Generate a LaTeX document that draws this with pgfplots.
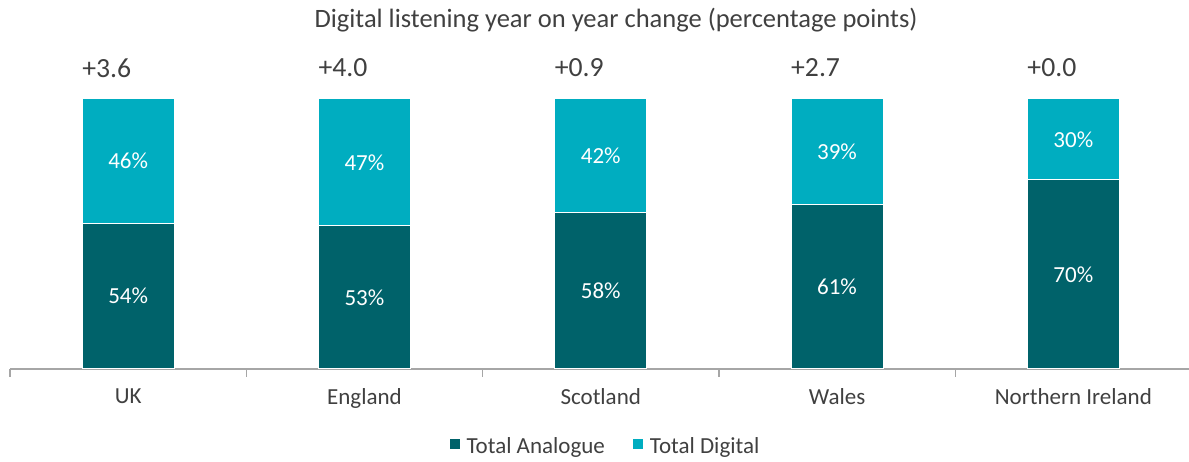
\documentclass[border=0pt]{standalone}
\usepackage{pgfplots}
\pgfplotsset{compat=1.18}
\usepackage{fontspec}
\setmainfont{Carlito}
\definecolor{analogue}{HTML}{00626A}
\definecolor{digital}{HTML}{00ADC0}
\definecolor{txt}{HTML}{404040}
\definecolor{axgray}{HTML}{A6A6A6}
\newcommand\lbl{\fontsize{23}{27}\selectfont}
\begin{document}
\begin{tikzpicture}
\useasboundingbox (0,0) rectangle (1189pt,462pt);
\node[text=txt, font=\fontsize{26.5}{30}\selectfont] at (616pt,442pt) {Digital listening year on year change (percentage points)};
\begin{axis}[
  at={(10pt,93pt)}, anchor=south west,
  scale only axis, width=1181.5pt, height=270pt,
  ybar stacked, bar width=92pt,
  xmin=-0.5, xmax=4.5, ymin=0, ymax=100,
  axis y line=none,
  axis x line*=bottom,
  x axis line style={axgray, line width=1.3pt, -},
  xtick={0,1,2,3,4},
  xticklabels={UK,England,Scotland,Wales,Northern Ireland},
  major x tick style={draw=none},
  minor xtick={-0.5,0.5,1.5,2.5,3.5,4.5},
  minor x tick style={axgray, line width=1.3pt},
  minor tick length=8pt,
  tick align=outside,
  xticklabel style={text=txt, font=\lbl, yshift=-12pt},
  clip=false,
  legend style={at={(0.504,-0.285)}, anchor=center, draw=none, legend columns=2,
    font=\lbl, text=txt,
    /tikz/every odd column/.append style={column sep=5pt},
    /tikz/every even column/.append style={column sep=26pt}},
  legend image code/.code={\fill[#1, draw=none] (0pt,-3pt) rectangle (10pt,7pt);},
  after end axis/.code={
    \foreach \i/\a/\d/\p in {0/54/46/+3.6, 1/53/47/+4.0, 2/58/42/+0.9, 3/61/39/+2.7, 4/70/30/+0.0}{
      \node[text=white, font=\lbl] at (axis cs:\i,\a/2) {\a\%};
      \node[text=white, font=\lbl] at (axis cs:\i,\a+\d/2) {\d\%};
      \node[text=txt, anchor=west, inner sep=0pt, font=\fontsize{27.7}{31}\selectfont] at (axis cs:\i-0.195,111.5) {\p};
    }
  },
]
\addplot[fill=analogue, draw=white, line width=1pt] coordinates {(0,54) (1,53) (2,58) (3,61) (4,70)};
\addlegendentry{Total Analogue}
\addplot[fill=digital, draw=white, line width=1pt] coordinates {(0,46) (1,47) (2,42) (3,39) (4,30)};
\addlegendentry{Total Digital}
\end{axis}
\end{tikzpicture}
\end{document}
